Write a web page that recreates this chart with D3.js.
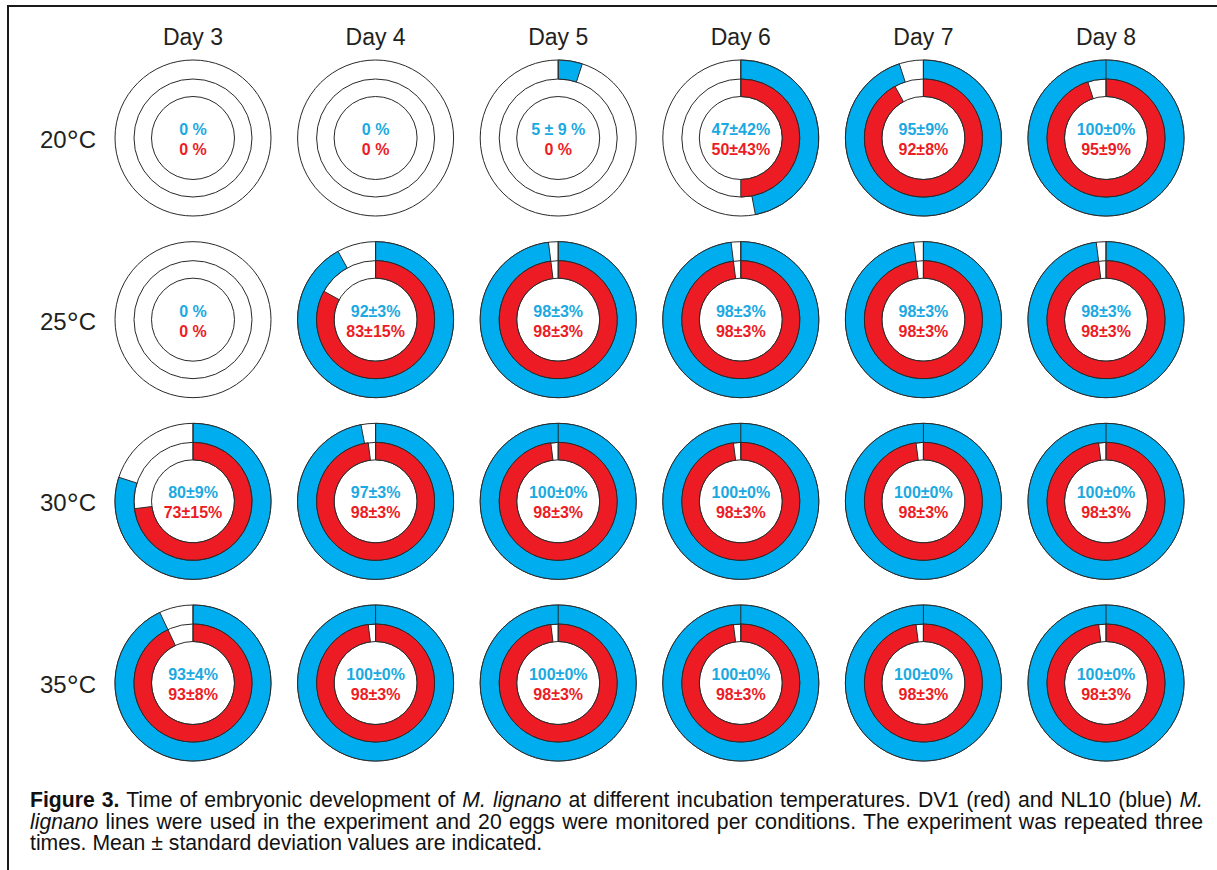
<!DOCTYPE html>
<html lang="en">
<head>
<meta charset="utf-8">
<title>Embryonic development of M. lignano</title>
<script src="https://d3js.org/d3.v7.min.js"></script>
<style>
  body { margin: 0; background: #fff; }
  svg { display: block; font-family: Arial, "Liberation Sans", sans-serif; }
  .ring { fill: #fff; stroke: #2a2a2a; stroke-width: 1; }
  .arc { stroke: #2a2a2a; stroke-width: 1; }
  .nl10 { fill: #00aeef; }
  .dv1 { fill: #ed1c24; }
  .lbl { font-size: 16px; font-weight: bold; text-anchor: middle; }
  .head { font-size: 23px; fill: #231f20; text-anchor: middle; }
  .cap { font-size: 21.2px; fill: #111; }
</style>
</head>
<body>
<svg id="chart" width="1217" height="870"></svg>
<script>
// data
var days = ["Day 3", "Day 4", "Day 5", "Day 6", "Day 7", "Day 8"];
var temps = ["20", "25", "30", "35"];

// NL10 (blue), mean % per temperature row, per day
var nl10Mean = [
  [0, 0, 5, 47, 95, 100],
  [0, 92, 98, 98, 98, 98],
  [80, 97, 100, 100, 100, 100],
  [93, 100, 100, 100, 100, 100]
];
var nl10Text = [
  ["0 %", "0 %", "5 ± 9 %", "47±42%", "95±9%", "100±0%"],
  ["0 %", "92±3%", "98±3%", "98±3%", "98±3%", "98±3%"],
  ["80±9%", "97±3%", "100±0%", "100±0%", "100±0%", "100±0%"],
  ["93±4%", "100±0%", "100±0%", "100±0%", "100±0%", "100±0%"]
];

// DV1 (red)
var dv1Mean = [
  [0, 0, 0, 50, 92, 95],
  [0, 83, 98, 98, 98, 98],
  [73, 98, 98, 98, 98, 98],
  [93, 98, 98, 98, 98, 98]
];
var dv1Text = [
  ["0 %", "0 %", "0 %", "50±43%", "92±8%", "95±9%"],
  ["0 %", "83±15%", "98±3%", "98±3%", "98±3%", "98±3%"],
  ["73±15%", "98±3%", "98±3%", "98±3%", "98±3%", "98±3%"],
  ["93±8%", "98±3%", "98±3%", "98±3%", "98±3%", "98±3%"]
];

var svg = d3.select("#chart");

var x = d3.scalePoint().domain(days).range([193, 1106]);
var y = d3.scalePoint().domain(temps).range([138, 683]);
var angle = d3.scaleLinear().domain([0, 100]).range([0, 2 * Math.PI]);

var rOut = 78, rMid = 59, rIn = 41.5;

// frame (left and top edges only, as cropped in the figure)
svg.append("path")
  .attr("d", "M8,870V6H1217")
  .attr("fill", "none")
  .attr("stroke", "#1a1a1a")
  .attr("stroke-width", 2);

// column headers
svg.selectAll(".head")
  .data(days)
  .enter().append("text")
    .attr("class", "head")
    .attr("x", function(d) { return x(d); })
    .attr("y", 45)
    .text(function(d) { return d; });

// row labels
var rowLbl = svg.selectAll(".rowlbl")
  .data(temps)
  .enter().append("text")
    .attr("class", "rowlbl")
    .attr("x", 68)
    .attr("y", function(d) { return y(d) + 10; })
    .attr("text-anchor", "middle")
    .attr("font-size", 24)
    .attr("fill", "#231f20");
rowLbl.append("tspan").text(function(d) { return d; });
rowLbl.append("tspan").attr("font-size", 30).attr("dy", 3).text("°");
rowLbl.append("tspan").attr("dy", -3).text("C");

var outerArc = d3.arc().innerRadius(rMid).outerRadius(rOut).startAngle(0);
var innerArc = d3.arc().innerRadius(rIn).outerRadius(rMid).startAngle(0);

var cells = [];
temps.forEach(function(t, i) {
  days.forEach(function(d, j) {
    cells.push({t: t, d: d, blue: nl10Mean[i][j], red: dv1Mean[i][j],
                blueTxt: nl10Text[i][j], redTxt: dv1Text[i][j]});
  });
});

var g = svg.selectAll(".cell")
  .data(cells)
  .enter().append("g")
    .attr("class", "cell")
    .attr("transform", function(c) { return "translate(" + x(c.d) + "," + y(c.t) + ")"; });

g.append("circle").attr("class", "ring").attr("r", rOut);
g.append("circle").attr("class", "ring").attr("r", rMid);
g.append("circle").attr("class", "ring").attr("r", rIn);

g.filter(function(c) { return c.blue > 0; })
  .append("path")
    .attr("class", "arc nl10")
    .attr("d", function(c) { return outerArc({endAngle: angle(c.blue)}); });

g.filter(function(c) { return c.red > 0; })
  .append("path")
    .attr("class", "arc dv1")
    .attr("d", function(c) { return innerArc({endAngle: angle(c.red)}); });

// seam at 12 o'clock
g.filter(function(c) { return c.blue > 0; })
  .append("line")
    .attr("x1", 0).attr("x2", 0)
    .attr("y1", -rOut).attr("y2", function(c) { return c.red > 0 ? -rIn : -rMid; })
    .attr("stroke", "#2a2a2a");

g.append("text")
  .attr("class", "lbl")
  .attr("y", -3)
  .attr("fill", "#1ba9e1")
  .text(function(c) { return c.blueTxt; });

g.append("text")
  .attr("class", "lbl")
  .attr("y", 17)
  .attr("fill", "#ed1c24")
  .text(function(c) { return c.redTxt; });

// caption
var capX = 30, capRight = 1203;
var capLines = [
  [["b", "Figure 3."], ["n", " Time of embryonic development of "], ["i", "M. lignano"],
   ["n", " at different incubation temperatures. DV1 (red) and NL10 (blue) "], ["i", "M."]],
  [["i", "lignano"], ["n", " lines were used in the experiment and 20 eggs were monitored per conditions. The experiment was repeated three"]],
  [["n", "times. Mean ± standard deviation values are indicated."]]
];
var capY = [807, 828.5, 850];

capLines.forEach(function(parts, k) {
  var t = svg.append("text")
    .attr("class", "cap")
    .attr("x", capX)
    .attr("y", capY[k])
    .attr("xml:space", "preserve");
  parts.forEach(function(p) {
    var s = t.append("tspan").text(p[1]);
    if (p[0] === "b") s.attr("font-weight", "bold");
    if (p[0] === "i") s.attr("font-style", "italic");
  });
  if (k < capLines.length - 1) {
    var w = t.node().getComputedTextLength();
    var spaces = parts.map(function(p) { return p[1]; }).join("").split(" ").length - 1;
    t.attr("word-spacing", (capRight - capX - w) / spaces);
  }
});
</script>
</body>
</html>
